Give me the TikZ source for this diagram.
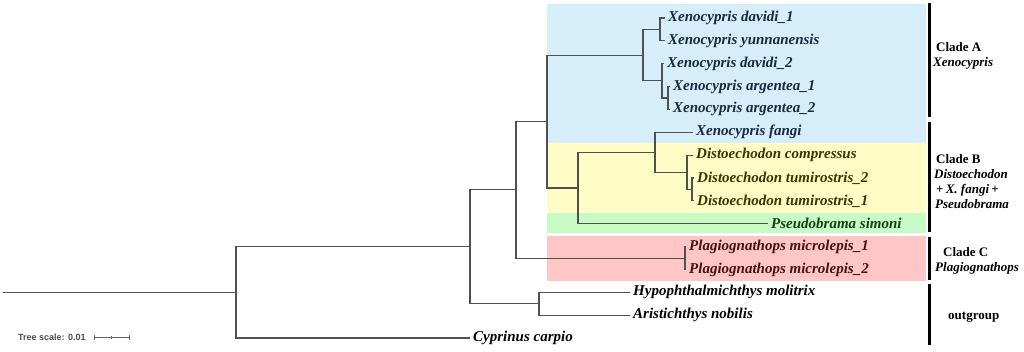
\documentclass[tikz,border=0pt]{standalone}
\usepackage{fontspec}
\setmainfont{Liberation Serif}
\newfontfamily\scalefont{Liberation Sans}
\definecolor{boxblue}{HTML}{D6EEFA}
\definecolor{boxyellow}{HTML}{FFFCC6}
\definecolor{boxgreen}{HTML}{C6FBC6}
\definecolor{boxpink}{HTML}{FFC6C6}
\definecolor{txtblue}{HTML}{1A2840}
\definecolor{txtyellow}{HTML}{3A3600}
\definecolor{txtgreen}{HTML}{183E18}
\definecolor{txtpink}{HTML}{4A1010}
\definecolor{branch}{HTML}{505050}
\begin{document}
\begin{tikzpicture}[x=1pt,y=-1pt,
  br/.style={draw=branch,line width=1.1pt},
  leaf/.style={anchor=west,inner xsep=3pt,inner ysep=0pt,font=\fontsize{15}{15}\selectfont\bfseries\itshape},
  cladelbl/.style={anchor=west,inner sep=0pt,font=\fontsize{13}{13}\selectfont\bfseries},
  cladebar/.style={draw=black,line width=3pt},
  boxfill/.style={draw=none}]
\useasboundingbox (0,0) rectangle (1024,351);
% background boxes
\fill[boxblue]   (547,4)   rectangle (926,143);
\fill[boxyellow] (547,143) rectangle (926,213);
\fill[boxgreen]  (547,213) rectangle (926,233);
\fill[boxpink]   (547,236) rectangle (926,281);
% internal nodes
\coordinate (r0) at (3,292.4);
\coordinate (R)  at (236,292.4);
\coordinate (N1) at (470,246.8);
\coordinate (Nout) at (539,303.75);
\coordinate (N2) at (516,189.8);
\coordinate (N3) at (547,121.6);
\coordinate (P)  at (685,258.05);
\coordinate (CA) at (643,55.15);
\coordinate (A1) at (660,29.45);
\coordinate (A2) at (662,80.85);
\coordinate (G)  at (668,98);
\coordinate (CB) at (578,188);
\coordinate (F)  at (655,152.3);
\coordinate (D1) at (687,172.3);
\coordinate (D2) at (692,189.45);
% leaves
\node[leaf,text=txtblue] (l0) at (665,18.0) {Xenocypris davidi\_1};
\node[leaf,text=txtblue] (l1) at (665,40.9) {Xenocypris yunnanensis};
\node[leaf,text=txtblue] (l2) at (664,63.7) {Xenocypris davidi\_2};
\node[leaf,text=txtblue] (l3) at (670,86.6) {Xenocypris argentea\_1};
\node[leaf,text=txtblue] (l4) at (670,109.4) {Xenocypris argentea\_2};
\node[leaf,text=txtblue] (l5) at (693,132.3) {Xenocypris fangi};
\node[leaf,text=txtyellow] (l6) at (693,155.2) {Distoechodon compressus};
\node[leaf,text=txtyellow] (l7) at (694,178.0) {Distoechodon tumirostris\_2};
\node[leaf,text=txtyellow] (l8) at (694,200.9) {Distoechodon tumirostris\_1};
\node[leaf,text=txtgreen] (l9) at (768,223.7) {Pseudobrama simoni};
\node[leaf,text=txtpink] (l10) at (686,246.6) {Plagiognathops microlepis\_1};
\node[leaf,text=txtpink] (l11) at (686,269.5) {Plagiognathops microlepis\_2};
\node[leaf] (l12) at (630,292.3) {Hypophthalmichthys molitrix};
\node[leaf] (l13) at (630,315.2) {Aristichthys nobilis};
\node[leaf] (l14) at (470,338.0) {Cyprinus carpio};
% branches
\draw[br] (r0) -- (R);
\draw[br] (R) |- (N1);
\draw[br] (R) |- (l14.west);
\draw[br] (N1) |- (N2);
\draw[br] (N1) |- (Nout);
\draw[br] (Nout) |- (l12.west);
\draw[br] (Nout) |- (l13.west);
\draw[br] (N2) |- (N3);
\draw[br] (N2) |- (P);
\draw[br] (P) |- (l10.west);
\draw[br] (P) |- (l11.west);
\draw[br] (N3) |- (CA);
\draw[br] (N3) |- (CB);
\draw[br] (CA) |- (A1);
\draw[br] (CA) |- (A2);
\draw[br] (A1) |- (l0.west);
\draw[br] (A1) |- (l1.west);
\draw[br] (A2) |- (l2.west);
\draw[br] (A2) |- (G);
\draw[br] (G) |- (l3.west);
\draw[br] (G) |- (l4.west);
\draw[br] (CB) |- (F);
\draw[br] (CB) |- (l9.west);
\draw[br] (F) |- (l5.west);
\draw[br] (F) |- (D1);
\draw[br] (D1) |- (l6.west);
\draw[br] (D1) |- (D2);
\draw[br] (D2) |- (l7.west);
\draw[br] (D2) |- (l8.west);
% clade bars
\coordinate (bAt) at (929,3);   \coordinate (bAb) at (929,117);
\coordinate (bBt) at (929,122); \coordinate (bBb) at (929,232);
\coordinate (bCt) at (929,237); \coordinate (bCb) at (929,280);
\coordinate (bOt) at (929,284); \coordinate (bOb) at (929,345);
\draw[cladebar] (bAt) -- (bAb);
\draw[cladebar] (bBt) -- (bBb);
\draw[cladebar] (bCt) -- (bCb);
\draw[cladebar] (bOt) -- (bOb);
% clade labels
\node[cladelbl] (cA1) at (936,47) {Clade A};
\node[cladelbl,font=\fontsize{13}{13}\selectfont\bfseries\itshape] (cA2) at (933,63) {Xenocypris};
\node[cladelbl] (cB1) at (936,159) {Clade B};
\node[cladelbl,font=\fontsize{13}{13}\selectfont\bfseries\itshape] (cB2) at (934,174) {Distoechodon};
\node[cladelbl,font=\fontsize{13}{13}\selectfont\bfseries\itshape] (cB3) at (936,190) {{\upshape+}\,X. fangi\,{\upshape+}};
\node[cladelbl,font=\fontsize{13}{13}\selectfont\bfseries\itshape] (cB4) at (935,204) {Pseudobrama};
\node[cladelbl] (cC1) at (943,252) {Clade C};
\node[cladelbl,font=\fontsize{13}{13}\selectfont\bfseries\itshape] (cC2) at (935,268) {Plagiognathops};
\node[cladelbl] (cO) at (948,317) {outgroup};
% tree scale
\node[anchor=west,inner sep=0pt,text=black!70,font=\scalefont\bfseries\fontsize{9}{9}\selectfont] (ts) at (18,337.5) {Tree scale: 0.01};
\coordinate (s0) at (94,337.5);
\coordinate (s1) at (129,337.5);
\coordinate (sm) at (111.5,337.5);
\draw[black!60,line width=0.8pt] (s0) -- (s1);
\draw[black!60,line width=0.8pt] ([yshift=-2.5pt]s0) -- ([yshift=2.5pt]s0);
\draw[black!60,line width=0.8pt] ([yshift=-2.5pt]s1) -- ([yshift=2.5pt]s1);
\draw[black!60,line width=0.8pt] ([yshift=-1.2pt]sm) -- ([yshift=1.2pt]sm);
\end{tikzpicture}
\end{document}
